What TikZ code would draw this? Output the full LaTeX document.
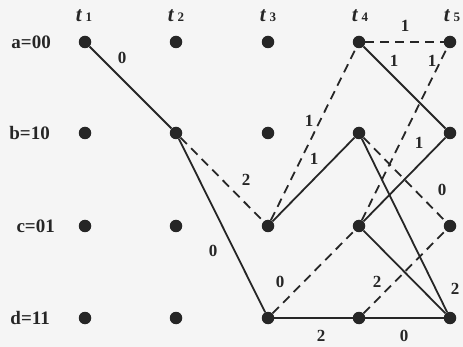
\documentclass[tikz,border=0pt]{standalone}
\usepackage{fontspec}
\setmainfont{Liberation Serif}
\begin{document}
\begin{tikzpicture}[x=1pt,y=-1pt,
  st/.style={circle,fill=black!85,inner sep=0pt,minimum size=12.5pt},
  sol/.style={line width=1.8pt,draw=black!85},
  dsh/.style={line width=1.8pt,draw=black!85,dash pattern=on 9pt off 6pt},
  lab/.style={font=\bfseries\fontsize{17}{17}\selectfont,inner sep=0pt,text=black!85},
  rowlab/.style={font=\bfseries\fontsize{19}{19}\selectfont,inner sep=0pt,anchor=east,text=black!85},
  hdr/.style={font=\bfseries\fontsize{21}{21}\selectfont,inner sep=0pt,text=black!85}]
\fill[black!4] (0,0) rectangle (463,347);
\useasboundingbox (0,0) rectangle (463,347);
% headers
\node[hdr] (h1) at (84,16) {\textit{t}\,{\fontsize{13}{13}\selectfont 1}};
\node[hdr] (h2) at (176,16) {\textit{t}\,{\fontsize{13}{13}\selectfont 2}};
\node[hdr] (h3) at (268,16) {\textit{t}\,{\fontsize{13}{13}\selectfont 3}};
\node[hdr] (h4) at (360,16) {\textit{t}\,{\fontsize{13}{13}\selectfont 4}};
\node[hdr] (h5) at (452,16) {\textit{t}\,{\fontsize{13}{13}\selectfont 5}};
% row labels
\node[rowlab] (ra) at (51,42) {a=00};
\node[rowlab] (rb) at (50,133) {b=10};
\node[rowlab] (rc) at (55,226) {c=01};
\node[rowlab] (rd) at (50,318) {d=11};
% states
\foreach \c/\x in {1/85,2/176,3/268,4/359,5/450}{
  \node[st] (a\c) at (\x,42) {};
  \node[st] (b\c) at (\x,133) {};
  \node[st] (c\c) at (\x,226) {};
  \node[st] (d\c) at (\x,318) {};
}
% edges
\draw[sol] (a1) -- (b2);
\draw[sol] (b2) -- (d3);
\draw[dsh] (b2) -- (c3);
\draw[dsh] (c3) -- (a4);
\draw[sol] (c3) -- (b4);
\draw[dsh] (d3) -- (c4);
\draw[sol] (d3) -- (d4);
\draw[dsh] (a4) -- (a5);
\draw[sol] (a4) -- (b5);
\draw[dsh] (b4) -- (c5);
\draw[sol] (b4) -- (d5);
\draw[dsh] (c4) -- (a5);
\draw[sol] (c4) -- (b5);
\draw[sol] (c4) -- (d5);
\draw[dsh] (d4) -- (c5);
\draw[sol] (d4) -- (d5);
% branch labels
\node[lab] (l1) at (122,58) {0};
\node[lab] (l2) at (213,251) {0};
\node[lab] (l3) at (246,180) {2};
\node[lab] (l4) at (309,121) {1};
\node[lab] (l5) at (314,159) {1};
\node[lab] (l6) at (280,282) {0};
\node[lab] (l7) at (321,336) {2};
\node[lab] (l8) at (405,26) {1};
\node[lab] (l9) at (394,61) {1};
\node[lab] (l10) at (432,61) {1};
\node[lab] (l11) at (419,143) {1};
\node[lab] (l12) at (442,190) {0};
\node[lab] (l13) at (377,282) {2};
\node[lab] (l14) at (455,289) {2};
\node[lab] (l15) at (404,336) {0};
\end{tikzpicture}
\end{document}
